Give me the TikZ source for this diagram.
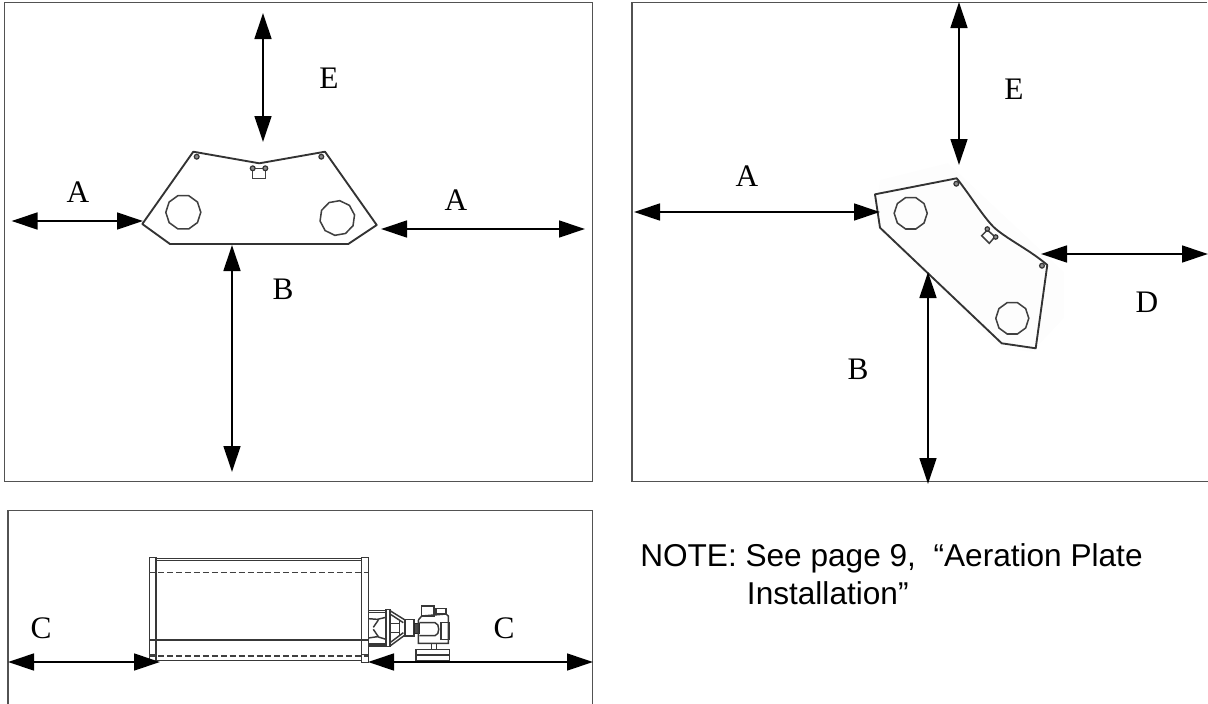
\documentclass[tikz,border=0pt]{standalone}
\usepackage{fontspec}
\setmainfont{Liberation Serif}
\newfontfamily\notefont{Liberation Sans}
\usetikzlibrary{arrows.meta}
\tikzset{
  framebox/.style={draw=black!68,line width=1pt},
  dim/.style={line width=2pt,draw=black,{Triangle[length=19.5pt,width=12.5pt]}-{Triangle[length=19.5pt,width=12.5pt]},shorten <=0pt,shorten >=0pt},
  lbl/.style={font=\fontsize{23.5}{23.5}\selectfont,inner sep=0pt},
  note/.style={font=\notefont\fontsize{23.7}{23.7}\selectfont,inner sep=0pt,anchor=base west},
  plate/.style={draw=black!80,line width=1.4pt,line join=round},
  hole/.style={draw=black!75,line width=1.15pt},
  pin/.style={draw=black!80,fill=black!45,line width=.9pt},
  mach/.style={draw=black!78,line width=1.1pt},
  machthin/.style={draw=black!75,line width=1.05pt}
}
\begin{document}
\begin{tikzpicture}[x=0.75pt,y=-0.75pt]
\useasboundingbox (0,0) rectangle (1208,704);
% frames
\draw[framebox] (4.5,2.5) rectangle (592.5,481.5);
\draw[framebox] (1207,2.5) -- (632,2.5) -- (632,481.5) -- (1208,481.5);
\draw[framebox] (8,704) -- (8,510.5) -- (592.5,510.5) -- (592.5,704);
% left plate
\draw[plate] (193.3,151.7) -- (259.3,163.3) -- (325,151.7) -- (376.7,225) -- (348.3,244) -- (170,244) -- (142.3,224) -- cycle;
\foreach \cx/\cy/\rot in {183.3/212.3/0,337.3/218/10}{
  \draw[hole,rotate around={\rot:(\cx,\cy)}] (\cx+17.5,\cy)
    \foreach \a in {36,72,...,324}{ -- ({\cx+17.5*cos(\a)},{\cy+17.5*sin(\a)}) } -- cycle;}
\draw[pin] (196.7,156.7) circle (2.4);
\draw[pin] (321.3,156.7) circle (2.4);
\draw[hole] (252.7,168.3) -- (252.7,178.3) -- (265.3,178.3) -- (265.3,168.3) -- cycle;
\draw[pin] (252.7,168.3) circle (2.4);
\draw[pin] (265.3,168.3) circle (2.4);
% right plate
\fill[black!0.8] (880,180) -- (948,163) -- (1064,272) -- (1064,318) -- (1032,352) -- (1000,348) -- (874,225) -- cycle;
\draw[plate] (875,194.3) -- (956.7,178.3) .. controls (970,195) and (982,215) .. (993.3,226.7) .. controls (1005,238) and (1030,250) .. (1047.3,265) -- (1035.7,348.3) -- (1001.7,343.3) -- (880,227.7) -- cycle;
\foreach \cx/\cy in {910.7/213.3,1012.3/318.3}{
  \draw[hole] (\cx+16.5,\cy)
    \foreach \a in {36,72,...,324}{ -- ({\cx+16.5*cos(\a)},{\cy+16.5*sin(\a)}) } -- cycle;}
\draw[pin] (956.3,183.7) circle (2.4);
\draw[pin] (1042,265.7) circle (2.4);
\draw[hole] (981.7,235.7) -- (987.3,230) -- (995,236.7) -- (989.3,243.3) -- cycle;
\draw[pin] (987.3,229) circle (2.2);
\draw[pin] (995.7,237) circle (2.2);
% drum
\draw[mach] (149.3,557.3) rectangle (156,662.3);
\draw[mach] (361.7,557.3) rectangle (368.3,662.3);
\draw[mach] (156,558.3) -- (361.7,558.3);
\draw[mach] (156,560.3) -- (361.7,560.3);
\draw[mach] (149.3,640) -- (368.3,640);
\draw[mach] (156,660.7) -- (361.7,660.7);
\draw[machthin,dash pattern=on 4.5pt off 2.2pt] (149.3,572.7) -- (368.3,572.7);
\draw[machthin,dash pattern=on 4.5pt off 2.2pt] (149.3,656) -- (368.3,656);
\draw[machthin] (149.3,654.5) -- (156,654.5);
\draw[machthin] (361.7,654.5) -- (368.3,654.5);
% gearbox and motor
\begin{scope}[shift={(140,540)},x=0.25pt,y=-0.25pt]
\draw[mach] (685,212) -- (740,212);
\draw[mach] (685,218) -- (740,218);
\draw[mach] (685,312) -- (740,312);
\draw[mach] (685,318) -- (740,318);
\draw[mach] (738,208) rectangle (750,320);
\draw[mach] (685,236) -- (712,238) -- (738,232);
\draw[mach] (685,294) -- (712,290) -- (738,298);
\draw[mach] (700,262) -- (715,240);
\draw[mach] (700,268) -- (715,290);
\draw[mach] (750,212) -- (795,240);
\draw[mach] (750,222) -- (790,248);
\draw[mach] (750,318) -- (795,285);
\draw[mach] (750,308) -- (790,278);
\draw[mach] (750,250) -- (780,250);
\draw[mach] (750,278) -- (780,278);
\draw[mach] (778,240) -- (778,287);
\draw[mach] (795,238) rectangle (822,288);
\draw[draw=black!85,fill=black!70,line width=.6pt] (822,250) rectangle (838,280);
\draw[mach] (835,240) -- (835,310) -- (925,310) -- (925,228) -- (918,222) -- (845,228) -- (835,240);
\draw[mach] (838,248) -- (885,248) .. controls (900,250) and (900,285) .. (885,287) -- (838,287);
\draw[mach] (845,198) rectangle (882,228);
\draw[mach] (888,206) rectangle (918,222);
\draw[mach] (903,248) rectangle (928,298);
\draw[mach] (875,310) -- (875,328);
\draw[mach] (890,310) -- (890,328);
\draw[mach] (828,328) rectangle (928,362);
\draw[mach] (828,345) -- (928,345);
\end{scope}
% connector ends
\coordinate (e1t) at (263,13);   \coordinate (e1b) at (263,142);
\coordinate (a1l) at (11.5,221); \coordinate (a1r) at (143,221);
\coordinate (a2l) at (381,229);  \coordinate (a2r) at (585,229);
\coordinate (b1t) at (232,245);  \coordinate (b1b) at (232,472);
\coordinate (e2t) at (959,2);    \coordinate (e2b) at (959,165);
\coordinate (a3l) at (634,212);  \coordinate (a3r) at (880,212);
\coordinate (d1l) at (1041,254); \coordinate (d1r) at (1208,254);
\coordinate (b2t) at (928,272);  \coordinate (b2b) at (928,484);
\coordinate (c1l) at (8,662);    \coordinate (c1r) at (160,662);
\coordinate (c2l) at (368,662);  \coordinate (c2r) at (593,662);
\foreach \p/\q in {e1t/e1b,a1l/a1r,a2l/a2r,b1t/b1b,e2t/e2b,a3l/a3r,d1l/d1r,b2t/b2b,c1l/c1r,c2l/c2r}
  \draw[dim] (\p) -- (\q);
% labels
\node[lbl] (le1) at (329,78) {E};
\node[lbl] (la1) at (78,192) {A};
\node[lbl] (la2) at (456,200) {A};
\node[lbl] (lb1) at (283,289) {B};
\node[lbl] (le2) at (1014,89) {E};
\node[lbl] (la3) at (747,176) {A};
\node[lbl] (lb2) at (858,369) {B};
\node[lbl] (ld1) at (1147,302) {D};
\node[lbl] (lc1) at (41,628) {C};
\node[lbl] (lc2) at (504,628) {C};
\node[note] (n1) at (640,566.7) {NOTE: See page 9,\ \ “Aeration Plate};
\node[note] (n2) at (746.7,604) {Installation”};
\end{tikzpicture}
\end{document}
